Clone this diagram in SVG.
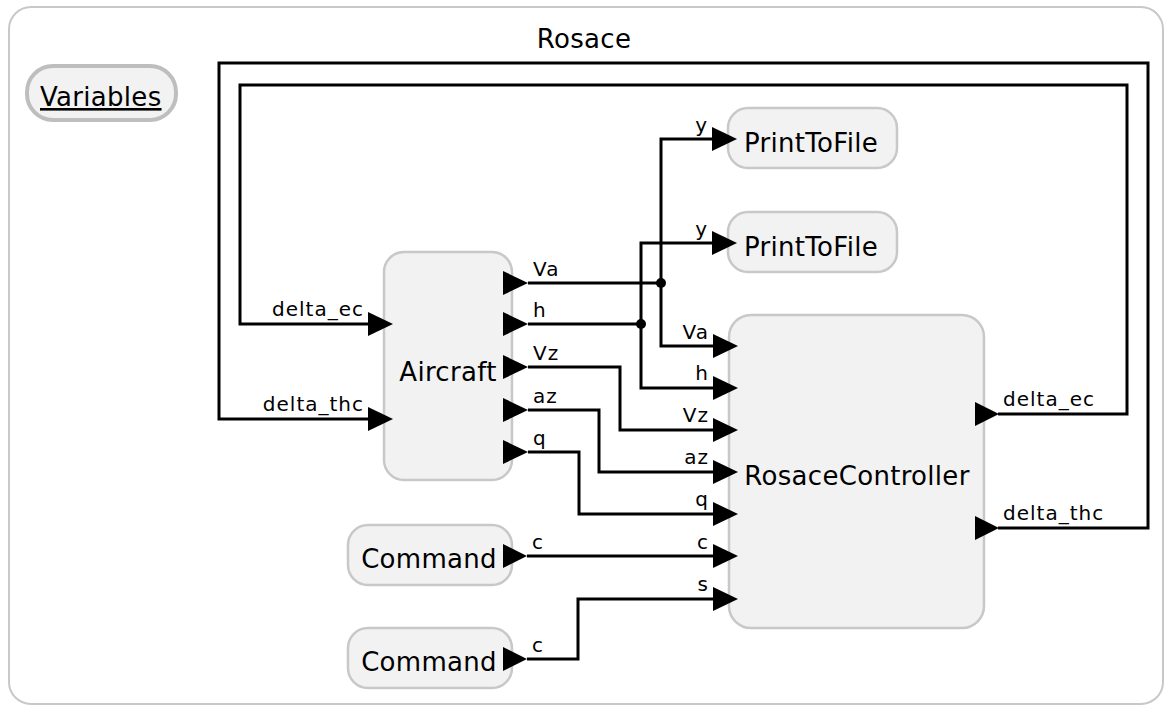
<svg xmlns="http://www.w3.org/2000/svg" width="1174" height="714" viewBox="0 0 1174 714">
<defs>
<style>
.frame{fill:#ffffff;stroke:#c8c8c8;stroke-width:2}
.node{fill:#f2f2f2;stroke:#c8c8c8;stroke-width:2.5}
.var{fill:#f2f2f2;stroke:#bebebe;stroke-width:4}
.big{font-family:"DejaVu Sans",sans-serif;font-size:26px;letter-spacing:0.3px;fill:#000}
.port{font-family:"DejaVu Sans",sans-serif;font-size:20px;letter-spacing:1px;fill:#000}
.wire{fill:none;stroke:#000;stroke-width:3}
.arr{fill:#000}
</style>
</defs>
<rect class="frame" x="9" y="7" width="1154" height="697" rx="22"/>
<text class="big" x="584" y="48" text-anchor="middle">Rosace</text>

<g id="variables">
<rect class="var" x="27" y="66" width="149" height="54" rx="26"/>
<text class="big" x="40" y="106" text-decoration="underline">Variables</text>
</g>

<g id="connectors">
<path class="wire" d="M528,283 H661"/>
<path class="wire" d="M712,139 H661 V346 H713"/>
<path class="wire" d="M528,324 H641"/>
<path class="wire" d="M712,243 H641 V388 H713"/>
<path class="wire" d="M528,367 H620 V430 H713"/>
<path class="wire" d="M528,410 H599 V472 H713"/>
<path class="wire" d="M528,452 H579 V514 H713"/>
<path class="wire" d="M527,556 H713"/>
<path class="wire" d="M527,659 H578 V599 H713"/>
<path class="wire" d="M998,414 H1127 V85 H240 V324 H368"/>
<path class="wire" d="M998,528 H1148 V63 H219 V419 H368"/>
<circle class="arr" cx="661" cy="283" r="5"/>
<circle class="arr" cx="641" cy="324" r="5"/>
</g>

<g id="aircraft">
<rect class="node" x="384" y="252" width="128" height="228" rx="20"/>
<text class="big" x="448" y="381" text-anchor="middle">Aircraft</text>
<polygon class="arr" points="368,312 393,324 368,336"/>
<polygon class="arr" points="368,407 393,419 368,431"/>
<text class="port" x="364" y="316" text-anchor="end">delta_ec</text>
<text class="port" x="364" y="411" text-anchor="end">delta_thc</text>
<polygon class="arr" points="503,271 528,283 503,295"/>
<polygon class="arr" points="503,312 528,324 503,336"/>
<polygon class="arr" points="503,355 528,367 503,379"/>
<polygon class="arr" points="503,398 528,410 503,422"/>
<polygon class="arr" points="503,440 528,452 503,464"/>
<text class="port" x="533" y="276">Va</text>
<text class="port" x="533" y="317">h</text>
<text class="port" x="533" y="360">Vz</text>
<text class="port" x="533" y="403">az</text>
<text class="port" x="533" y="445">q</text>
</g>

<g id="printtofile1">
<rect class="node" x="728" y="108" width="169" height="60" rx="20"/>
<text class="big" x="811" y="152" text-anchor="middle">PrintToFile</text>
<polygon class="arr" points="712,127 737,139 712,151"/>
<text class="port" x="708" y="132" text-anchor="end">y</text>
</g>

<g id="printtofile2">
<rect class="node" x="728" y="212" width="169" height="60" rx="20"/>
<text class="big" x="811" y="256" text-anchor="middle">PrintToFile</text>
<polygon class="arr" points="712,231 737,243 712,255"/>
<text class="port" x="708" y="236" text-anchor="end">y</text>
</g>

<g id="controller">
<rect class="node" x="729" y="315" width="255" height="313" rx="22"/>
<text class="big" x="857" y="485" text-anchor="middle">RosaceController</text>
<polygon class="arr" points="713,334 738,346 713,358"/>
<polygon class="arr" points="713,376 738,388 713,400"/>
<polygon class="arr" points="713,418 738,430 713,442"/>
<polygon class="arr" points="713,460 738,472 713,484"/>
<polygon class="arr" points="713,502 738,514 713,526"/>
<polygon class="arr" points="713,544 738,556 713,568"/>
<polygon class="arr" points="713,587 738,599 713,611"/>
<text class="port" x="709" y="339" text-anchor="end">Va</text>
<text class="port" x="709" y="380" text-anchor="end">h</text>
<text class="port" x="709" y="422" text-anchor="end">Vz</text>
<text class="port" x="709" y="464" text-anchor="end">az</text>
<text class="port" x="709" y="506" text-anchor="end">q</text>
<text class="port" x="709" y="549" text-anchor="end">c</text>
<text class="port" x="709" y="591" text-anchor="end">s</text>
<polygon class="arr" points="975,402 999,414 975,426"/>
<polygon class="arr" points="975,516 999,528 975,540"/>
<text class="port" x="1003" y="406">delta_ec</text>
<text class="port" x="1003" y="520">delta_thc</text>
</g>

<g id="command1">
<rect class="node" x="348" y="525" width="164" height="60" rx="20"/>
<text class="big" x="429" y="568" text-anchor="middle">Command</text>
<polygon class="arr" points="503,544 527,556 503,568"/>
<text class="port" x="532" y="549">c</text>
</g>

<g id="command2">
<rect class="node" x="348" y="628" width="164" height="60" rx="20"/>
<text class="big" x="429" y="671" text-anchor="middle">Command</text>
<polygon class="arr" points="503,647 527,659 503,671"/>
<text class="port" x="532" y="652">c</text>
</g>
</svg>
